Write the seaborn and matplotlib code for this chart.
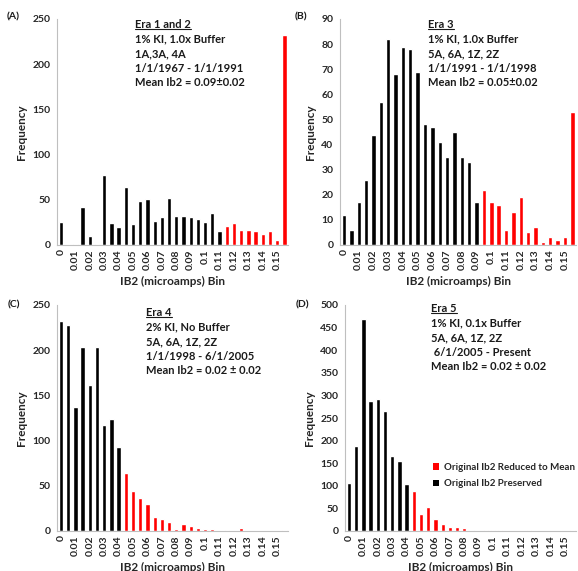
import matplotlib
matplotlib.use("Agg")
import matplotlib.pyplot as plt
import seaborn as sns
import pandas as pd
from matplotlib.lines import Line2D
from matplotlib.patches import Patch

bins = ["0", "0.005", "0.01", "0.015", "0.02", "0.025", "0.03", "0.035",
        "0.04", "0.045", "0.05", "0.055", "0.06", "0.065", "0.07", "0.075",
        "0.08", "0.085", "0.09", "0.095", "0.1", "0.105", "0.11", "0.115",
        "0.12", "0.125", "0.13", "0.135", "0.14", "0.145", "0.15", "0.155"]
tick_labels = ["0", "0.01", "0.02", "0.03", "0.04", "0.05", "0.06", "0.07",
               "0.08", "0.09", "0.1", "0.11", "0.12", "0.13", "0.14", "0.15"]

era12 = [25, 0, 1, 42, 10, 1, 77, 24, 20, 64, 23, 49, 51, 26, 31, 52,
         32, 32, 31, 29, 25, 35, 15, 21, 24, 17, 17, 16, 12, 16, 6, 232]
era3 = [12, 6, 17, 26, 44, 57, 82, 68, 79, 78, 69, 48, 47, 41, 35, 45,
        35, 33, 17, 22, 17, 16, 6, 13, 19, 5, 7, 1, 3, 2, 3, 53]
era4 = [232, 228, 137, 203, 162, 204, 117, 124, 93, 64, 44, 37, 30, 15, 13, 10,
        2, 8, 6, 3, 2, 2, 0, 1, 0, 3, 0, 0, 0, 0, 0, 1]
era5 = [107, 189, 470, 287, 291, 266, 165, 154, 103, 88, 37, 53, 27, 15, 8, 9,
        7, 3, 0, 2, 2, 2, 0, 0, 0, 2, 0, 0, 0, 0, 0, 2]

last_preserved = {"A": "0.11", "B": "0.09", "C": "0.04", "D": "0.04"}
status_names = ["Original Ib2 Reduced to Mean", "Original Ib2 Preserved"]

panel_text = {
    "A": ["Era 1 and 2", "1% KI, 1.0x Buffer", "1A,3A, 4A", "1/1/1967 - 1/1/1991", "Mean Ib2 = 0.09\u00b10.02"],
    "B": ["Era 3", "1% KI, 1.0x Buffer", "5A, 6A, 1Z, 2Z", "1/1/1991 - 1/1/1998", "Mean Ib2 = 0.05\u00b10.02"],
    "C": ["Era 4", "2% KI, No Buffer", "5A, 6A, 1Z, 2Z", "1/1/1998 - 6/1/2005", "Mean Ib2 = 0.02 \u00b1 0.02"],
    "D": ["Era 5", "1% KI, 0.1x Buffer", "5A, 6A, 1Z, 2Z", " 6/1/2005 - Present", "Mean Ib2 = 0.02 \u00b1 0.02"],
}
ylims = {"A": (250, 50), "B": (90, 10), "C": (250, 50), "D": (500, 50)}
data = {"A": era12, "B": era3, "C": era4, "D": era5}

W, H = 578, 571
fig = plt.figure(figsize=(W / 100, H / 100), dpi=100)
sns.set_style("white")
plt.rcParams["font.family"] = ["Lato", "DejaVu Sans"]
plt.rcParams["font.weight"] = "bold"

# axes rectangles in pixels: left, top, right, bottom
rects = {
    "A": (57.4, 19, 288.0, 245),
    "B": (340.3, 19, 576.0, 245),
    "C": (57.4, 305, 288.0, 531),
    "D": (345.4, 305, 576.0, 531),
}
text_pos = {"A": (135, 19), "B": (428, 19), "C": (146, 307), "D": (431, 303)}
label_pos = {"A": (13, 17), "B": (301, 17), "C": (14, 305), "D": (302, 305)}

grey = "#bfbfbf"
underline_items = []
for key in ["A", "B", "C", "D"]:
    l, t, r, b = rects[key]
    ax = fig.add_axes([l / W, 1 - b / H, (r - l) / W, (b - t) / H])
    vals = data[key]
    cut = bins.index(last_preserved[key])
    status = [status_names[1] if i <= cut else status_names[0] for i in range(len(bins))]
    df = pd.DataFrame({"bin": bins, "freq": vals, "status": status})
    sns.barplot(data=df, x="bin", y="freq", hue="status", order=bins,
                hue_order=status_names, palette=["#ff0000", "#000000"],
                dodge=False, width=0.6, ax=ax, legend=False, saturation=1)
    ymax, step = ylims[key]
    ax.set_ylim(0, ymax)
    ax.set_xlim(-0.5, len(bins) - 0.5)
    ax.set_yticks(range(0, ymax + 1, step))
    ax.set_xticks(range(0, len(bins), 2))
    ax.set_xticklabels(tick_labels, rotation=90)
    ax.set_xticks([i + 0.5 for i in range(-1, len(bins))], minor=True)
    ax.tick_params(axis="x", which="major", length=0, labelsize=7.5, pad=3, colors="#262626")
    ax.tick_params(axis="x", which="minor", length=3, color=grey, width=0.8)
    ax.tick_params(axis="y", length=3, color=grey, width=0.8, labelsize=7.5, colors="#262626", pad=2)
    for lab in ax.get_xticklabels() + ax.get_yticklabels():
        lab.set_fontweight("bold")
    for s in ["top", "right"]:
        ax.spines[s].set_visible(False)
    for s in ["left", "bottom"]:
        ax.spines[s].set_color(grey)
        ax.spines[s].set_linewidth(0.8)
    ax.set_ylabel("Frequency", fontsize=8.5, fontweight="bold", labelpad=4)
    ax.set_xlabel("IB2 (microamps) Bin", fontsize=8.5, fontweight="bold", labelpad=4)
    ax.grid(False)

    tx, ty = text_pos[key]
    lines = panel_text[key]
    for i, line in enumerate(lines):
        txt = fig.text(tx / W, 1 - (ty + i * 14.6) / H, line, fontsize=8,
                       fontweight="bold", va="top", ha="left", color="#1a1a1a")
        if i == 0:
            underline_items.append(txt)
    lx, ly = label_pos[key]
    fig.text(lx / W, 1 - ly / H, f"({key})", fontsize=7.5, fontweight="bold",
             va="center", ha="center", color="#1a1a1a")

    if key == "D":
        handles = [Patch(facecolor="#ff0000", edgecolor="none"),
                   Patch(facecolor="#000000", edgecolor="none")]
        fig.legend(handles, status_names, loc="upper left",
                   bbox_to_anchor=(433 / W, 1 - 463 / H), frameon=False,
                   handlelength=0.6, handleheight=0.6,
                   handletextpad=0.5, labelspacing=0.75, borderaxespad=0,
                   borderpad=0, prop={"weight": "bold", "size": 7})

fig.canvas.draw()
renderer = fig.canvas.get_renderer()
for txt in underline_items:
    bb = txt.get_window_extent(renderer)
    y = bb.y0 + 1
    fig.add_artist(Line2D([bb.x0 / W, bb.x1 / W], [y / H, y / H],
                          color="#1a1a1a", linewidth=0.8, transform=fig.transFigure))

fig.savefig("out.png", dpi=100)
